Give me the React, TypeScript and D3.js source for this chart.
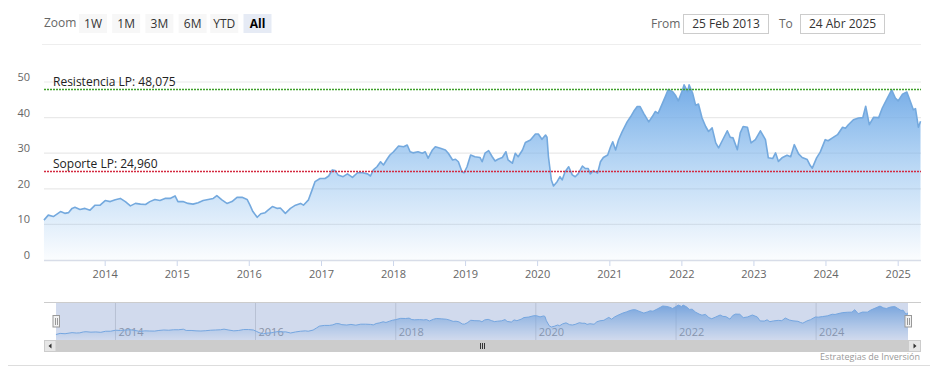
import React from "react";
import * as d3 from "d3";

// Decimal-year dates and closing values
const dates: number[] = [
  2013.15, 2013.21, 2013.28, 2013.38, 2013.44, 2013.49, 2013.54, 2013.58, 2013.65, 2013.72,
  2013.79, 2013.86, 2013.93, 2014.0, 2014.07, 2014.14, 2014.21, 2014.28, 2014.35, 2014.42,
  2014.49, 2014.56, 2014.62, 2014.69, 2014.76, 2014.83, 2014.9, 2014.97, 2015.01, 2015.08,
  2015.15, 2015.22, 2015.29, 2015.36, 2015.43, 2015.5, 2015.55, 2015.62, 2015.69, 2015.76,
  2015.83, 2015.9, 2015.97, 2016.01, 2016.05, 2016.11, 2016.16, 2016.22, 2016.26, 2016.32,
  2016.39, 2016.43, 2016.5, 2016.57, 2016.64, 2016.71, 2016.75, 2016.82, 2016.87, 2016.91,
  2016.98, 2017.05, 2017.1, 2017.15, 2017.19, 2017.23, 2017.3, 2017.36, 2017.43, 2017.5,
  2017.57, 2017.64, 2017.68, 2017.72, 2017.77, 2017.82, 2017.86, 2017.91, 2017.95, 2018.0,
  2018.07, 2018.14, 2018.19, 2018.23, 2018.27, 2018.34, 2018.4, 2018.44, 2018.48, 2018.54,
  2018.58, 2018.65, 2018.72, 2018.76, 2018.82, 2018.86, 2018.9, 2018.95, 2018.98, 2019.02,
  2019.07, 2019.13, 2019.2, 2019.23, 2019.27, 2019.32, 2019.37, 2019.41, 2019.45, 2019.51,
  2019.56, 2019.59, 2019.65, 2019.69, 2019.73, 2019.79, 2019.83, 2019.9, 2019.97, 2020.01,
  2020.06, 2020.11, 2020.13, 2020.15, 2020.19, 2020.22, 2020.27, 2020.31, 2020.34, 2020.38,
  2020.43, 2020.48, 2020.52, 2020.56, 2020.62, 2020.66, 2020.7, 2020.73, 2020.77, 2020.83,
  2020.87, 2020.91, 2020.97, 2021.01, 2021.04, 2021.08, 2021.12, 2021.17, 2021.24, 2021.29,
  2021.33, 2021.38, 2021.42, 2021.47, 2021.54, 2021.59, 2021.63, 2021.67, 2021.73, 2021.77,
  2021.81, 2021.87, 2021.91, 2021.95, 2022.01, 2022.03, 2022.08, 2022.1, 2022.15, 2022.19,
  2022.23, 2022.28, 2022.33, 2022.37, 2022.42, 2022.47, 2022.51, 2022.56, 2022.63, 2022.67,
  2022.71, 2022.77, 2022.81, 2022.85, 2022.91, 2022.96, 2023.02, 2023.09, 2023.16, 2023.2,
  2023.26, 2023.3, 2023.34, 2023.39, 2023.46, 2023.51, 2023.56, 2023.62, 2023.67, 2023.74,
  2023.78, 2023.81, 2023.87, 2023.92, 2023.99, 2024.03, 2024.09, 2024.16, 2024.23, 2024.27,
  2024.31, 2024.38, 2024.45, 2024.51, 2024.55, 2024.6, 2024.66, 2024.73, 2024.78, 2024.85,
  2024.91, 2024.96, 2025.0, 2025.06, 2025.12, 2025.16, 2025.21, 2025.24, 2025.28, 2025.31,
];

const prices: number[] = [
  11.2, 12.6, 12.2, 13.6, 13.1, 13.3, 14.5, 14.8, 14.2, 14.5,
  14.0, 15.4, 15.4, 16.7, 16.4, 16.9, 17.3, 16.4, 15.2, 15.9,
  15.7, 15.6, 16.4, 17.0, 16.7, 17.3, 17.3, 18.0, 16.4, 16.4,
  15.9, 15.7, 16.1, 16.7, 17.0, 17.3, 18.1, 16.9, 15.9, 16.4,
  17.6, 17.6, 17.0, 15.4, 13.6, 12.0, 13.0, 13.3, 14.0, 15.0,
  14.5, 14.6, 13.1, 14.5, 15.4, 15.9, 15.4, 16.9, 19.7, 22.0,
  22.9, 22.9, 23.6, 25.3, 25.1, 23.9, 23.4, 24.2, 23.2, 24.5,
  24.5, 24.2, 23.6, 25.3, 26.2, 27.6, 26.7, 28.3, 29.5, 30.4,
  32.0, 31.8, 32.3, 30.4, 30.1, 30.4, 30.0, 30.4, 28.6, 30.9,
  31.8, 31.4, 30.9, 30.0, 28.1, 28.3, 27.6, 24.8, 24.5, 26.2,
  29.5, 29.0, 28.8, 27.6, 30.0, 30.7, 29.0, 27.8, 28.3, 28.8,
  30.4, 28.1, 27.2, 30.0, 29.0, 30.9, 33.0, 33.7, 35.4, 35.4,
  33.9, 35.1, 34.5, 29.0, 22.5, 20.8, 22.0, 23.4, 22.5, 24.8,
  26.2, 23.9, 23.4, 24.2, 26.4, 25.7, 25.7, 24.2, 25.1, 24.4,
  27.6, 28.8, 29.5, 31.8, 33.2, 30.9, 33.7, 36.0, 38.8, 40.3,
  41.7, 43.1, 43.1, 41.2, 38.8, 40.3, 41.7, 41.2, 44.0, 45.9,
  47.9, 47.3, 46.3, 44.7, 47.8, 49.2, 47.3, 49.2, 46.8, 43.5,
  43.8, 39.9, 37.5, 36.1, 37.1, 32.9, 31.5, 33.5, 36.3, 34.5,
  34.3, 31.0, 35.7, 37.5, 37.3, 32.9, 33.8, 36.3, 33.8, 28.7,
  28.5, 30.1, 27.7, 28.7, 29.4, 29.0, 32.4, 29.8, 28.8, 28.2,
  26.6, 25.8, 28.7, 30.3, 33.8, 33.5, 34.3, 35.2, 37.3, 37.0,
  38.0, 39.4, 39.9, 40.0, 43.2, 38.0, 40.1, 40.0, 42.7, 45.5,
  47.8, 45.5, 44.7, 46.6, 47.2, 45.0, 42.2, 42.5, 37.3, 39.0,
];

const yTicks: number[] = [0, 10, 20, 30, 40, 50];
const xTickYears: number[] = [2014, 2015, 2016, 2017, 2018, 2019, 2020, 2021, 2022, 2023, 2024, 2025];
const navTickYears: number[] = [2014, 2016, 2018, 2020, 2022, 2024];
const zoomButtons: string[] = ["1W", "1M", "3M", "6M", "YTD", "All"];
const plotLines = [
  { value: 48.075, label: "Resistencia LP: 48,075", color: "#3fa02a" },
  { value: 24.96, label: "Soporte LP: 24,960", color: "#d42a40" },
];
const fromLabel = "25 Feb 2013";
const toLabel = "24 Abr 2025";
const startDate = Date.UTC(2013, 1, 25);
const endDate = Date.UTC(2025, 3, 24);

function decToDate(t: number): Date {
  const y = Math.floor(t);
  const s = Date.UTC(y, 0, 1);
  const e = Date.UTC(y + 1, 0, 1);
  return new Date(s + (t - y) * (e - s));
}

const data = dates.map((t, i) => ({ date: decToDate(t), value: prices[i] }));

const FONT = "'Open Sans', 'DejaVu Sans', sans-serif";

export default function App() {
  const x = d3.scaleUtc().domain([new Date(startDate), new Date(endDate)]).range([44, 920.5]);
  const y = d3.scaleLinear().domain([0, 50]).range([260, 82]);
  const nx = d3.scaleUtc().domain([new Date(startDate), new Date(endDate)]).range([56, 908]);
  const ny = d3.scaleLinear().domain([11.2, 49.2]).range([334.5, 305]);

  const area = d3
    .area<{ date: Date; value: number }>()
    .x((d) => x(d.date))
    .y0(260)
    .y1((d) => y(d.value));
  const line = d3
    .line<{ date: Date; value: number }>()
    .x((d) => x(d.date))
    .y((d) => y(d.value));
  const navArea = d3
    .area<{ date: Date; value: number }>()
    .x((d) => nx(d.date))
    .y0(340)
    .y1((d) => ny(d.value));
  const navLine = d3
    .line<{ date: Date; value: number }>()
    .x((d) => nx(d.date))
    .y((d) => ny(d.value));

  const btnX0 = 79;
  const btnStep = 33.2;

  return (
    <svg
      width={937}
      height={384}
      style={{ position: "absolute", left: 0, top: 0, background: "#fff" }}
      fontFamily={FONT}
    >
      <defs>
        <linearGradient id="areaGrad" gradientUnits="userSpaceOnUse" x1="0" y1="82" x2="0" y2="260">
          <stop offset="0" stopColor="#72aae6" stopOpacity={1} />
          <stop offset="0.5" stopColor="#7cb5ec" stopOpacity={0.5} />
          <stop offset="1" stopColor="#7cb5ec" stopOpacity={0.03} />
        </linearGradient>
        <linearGradient id="navGrad" gradientUnits="userSpaceOnUse" x1="0" y1="304" x2="0" y2="340">
          <stop offset="0" stopColor="#6ea7e4" stopOpacity={0.9} />
          <stop offset="1" stopColor="#7cb5ec" stopOpacity={0} />
        </linearGradient>
      </defs>

      {/* range selector */}
      <text x={44} y={27} fontSize={12} fill="#666">Zoom</text>
      {zoomButtons.map((b, i) => {
        const bx = btnX0 + i * btnStep - (i >= 4 ? 1.5 : 0);
        const sel = b === "All";
        return (
          <g key={b}>
            <rect x={bx} y={14} width={28} height={19} fill={sel ? "#e6ebf5" : "#f7f7f7"} />
            <text
              x={bx + 14}
              y={28}
              fontSize={12}
              textAnchor="middle"
              fill={sel ? "#000" : "#333"}
              fontWeight={sel ? "bold" : "normal"}
            >
              {b}
            </text>
          </g>
        );
      })}
      <text x={651} y={28} fontSize={12} fill="#666">From</text>
      <rect x={683.5} y={14.5} width={85} height={19} fill="#fff" stroke="#cccccc" />
      <text x={726} y={28} fontSize={12} textAnchor="middle" fill="#333">{fromLabel}</text>
      <text x={779} y={28} fontSize={12} fill="#666">To</text>
      <rect x={800.5} y={14.5} width={84} height={19} fill="#fff" stroke="#cccccc" />
      <text x={842.5} y={28} fontSize={12} textAnchor="middle" fill="#333">{toLabel}</text>
      <line x1={42} x2={921} y1={44.5} y2={44.5} stroke="#eeeeee" />

      {/* grid */}
      {yTicks.map((t) => (
        <g key={t}>
          {t > 0 && <line x1={44} x2={921} y1={y(t)} y2={y(t)} stroke="#e9e9e9" strokeWidth={1.2} />}
          <text x={30} y={y(t) - 1} fontSize={11} fill="#666" textAnchor="end">{t}</text>
        </g>
      ))}

      {/* series */}
      <path d={area(data) || ""} fill="url(#areaGrad)" />
      <path d={line(data) || ""} fill="none" stroke="#74a9de" strokeWidth={1.6} strokeLinejoin="round" />

      {/* plot lines */}
      {plotLines.map((p) => (
        <g key={p.label}>
          <line
            x1={44}
            x2={921}
            y1={Math.round(y(p.value)) + 0.5}
            y2={Math.round(y(p.value)) + 0.5}
            stroke={p.color}
            strokeDasharray="2,1"
            strokeWidth={1.3}
          />
          <text x={53} y={y(p.value) - 3} fontSize={12} fill="#222">{p.label}</text>
        </g>
      ))}

      {/* x axis */}
      <line x1={44} x2={921} y1={260.5} y2={260.5} stroke="#d8dde8" strokeWidth={1.5} />
      {xTickYears.map((yr) => {
        const px = x(new Date(Date.UTC(yr, 0, 1)));
        return (
          <g key={yr}>
            <line x1={px} x2={px} y1={261} y2={266} stroke="#ccd6eb" />
            <text x={px} y={278} fontSize={11} fill="#666" textAnchor="middle">{yr}</text>
          </g>
        );
      })}

      {/* navigator */}
      <line x1={44} x2={921} y1={302.5} y2={302.5} stroke="#cccccc" />
      {navTickYears.map((yr) => {
        const px = nx(new Date(Date.UTC(yr, 0, 1)));
        return (
          <g key={yr}>
            <line x1={px} x2={px} y1={303} y2={340} stroke="#dcdcdc" />
            <text x={px + 3} y={336} fontSize={11} fill="#999">{yr}</text>
          </g>
        );
      })}
      <path d={navArea(data) || ""} fill="url(#navGrad)" />
      <path d={navLine(data) || ""} fill="none" stroke="#7cb5ec" strokeWidth={1} />
      <rect x={56} y={303} width={852} height={37} fill="rgba(102,133,194,0.3)" />
      {[56, 908].map((hx) => (
        <g key={hx}>
          <rect x={hx - 3} y={315.5} width={6.5} height={11.5} fill="#f2f2f2" stroke="#999" />
          <line x1={hx - 0.5} x2={hx - 0.5} y1={318} y2={325} stroke="#999" />
          <line x1={hx + 1.5} x2={hx + 1.5} y1={318} y2={325} stroke="#999" />
        </g>
      ))}

      {/* scrollbar */}
      <rect x={44} y={340} width={877} height={12} fill="#f2f2f2" />
      <rect x={56} y={340} width={852} height={12} fill="#cccccc" />
      <rect x={44.5} y={340.5} width={11.5} height={11} fill="#e6e6e6" stroke="#cccccc" />
      <rect x={908.5} y={340.5} width={12} height={11} fill="#e6e6e6" stroke="#cccccc" />
      <path d="M51.5,343.5 L48.5,346 L51.5,348.5 Z" fill="#333" />
      <path d="M913.5,343.5 L916.5,346 L913.5,348.5 Z" fill="#333" />
      {[-2, 0, 2].map((o) => (
        <line key={o} x1={482 + o + 0.5} x2={482 + o + 0.5} y1={343} y2={349} stroke="#333" />
      ))}

      <text x={920} y={360} fontSize={9} fill="#999" textAnchor="end">Estrategias de Inversión</text>
      <line x1={8} x2={930} y1={365.5} y2={365.5} stroke="#dddddd" />
    </svg>
  );
}
